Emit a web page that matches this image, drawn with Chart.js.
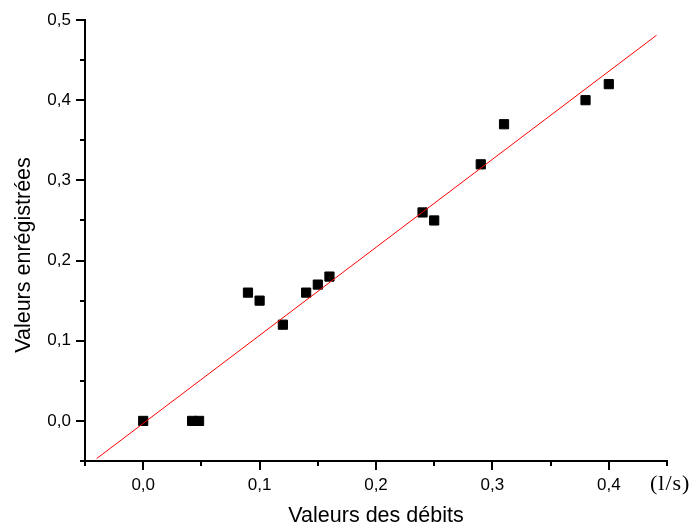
<!DOCTYPE html>
<html>
<head>
<meta charset="utf-8">
<script src="https://cdn.jsdelivr.net/npm/chart.js@4"></script>
<style>
  html, body { margin: 0; padding: 0; background: #fff; }
  canvas { display: block; }
</style>
</head>
<body>
<canvas id="c" width="692" height="529"></canvas>
<script>
// Measured flow rates (l/s) and recorded values
const debits  = [0, 0.042, 0.048, 0.09, 0.10, 0.12, 0.14, 0.15, 0.16, 0.24, 0.25, 0.29, 0.31, 0.38, 0.40];
const valeurs = [0, 0,     0,     0.16, 0.15, 0.12, 0.16, 0.17, 0.18, 0.26, 0.25, 0.32, 0.37, 0.40, 0.42];

// Linear fit, drawn between its two end points
const fitX = [-0.04, 0.441];
const fitY = [-0.047, 0.481];

// Axis ranges and tick step
const xRange = [-0.05, 0.45];
const yRange = [-0.05, 0.5];
const tickStep = 0.05;

const xTitle = 'Valeurs des débits';
const yTitle = 'Valeurs enrégistrées';
const unitLabel = '(l/s)';

const SANS = '"Liberation Sans", Arial, sans-serif';
const SERIF = '"Liberation Serif", "Times New Roman", serif';

const isMajor = v => Math.abs(Math.round(v * 10) - v * 10) < 1e-6;
const fmt = v => isMajor(v) ? (Math.round(v * 10) / 10).toFixed(1).replace('.', ',') : '';

// Outward tick marks (long on labelled values), rotated y title and unit label
const decorations = {
  id: 'decorations',
  afterDraw(chart) {
    const { ctx } = chart;
    const xs = chart.scales.x, ys = chart.scales.y;
    ctx.save();
    ctx.strokeStyle = '#000';
    ctx.lineWidth = 2;
    ctx.beginPath();
    xs.ticks.forEach(t => {
      const px = Math.round(xs.getPixelForValue(t.value));
      const len = isMajor(t.value) ? 9 : 5;
      ctx.moveTo(px, xs.top);
      ctx.lineTo(px, xs.top + len);
    });
    ys.ticks.forEach(t => {
      const py = Math.round(ys.getPixelForValue(t.value));
      const len = isMajor(t.value) ? 9 : 5;
      ctx.moveTo(ys.right, py);
      ctx.lineTo(ys.right - len, py);
    });
    ctx.stroke();

    ctx.fillStyle = '#000';
    ctx.font = '21.5px ' + SANS;
    ctx.textAlign = 'center';
    ctx.textBaseline = 'middle';
    ctx.translate(24, 255);
    ctx.rotate(-Math.PI / 2);
    ctx.fillText(yTitle, 0, 0);
    ctx.setTransform(1, 0, 0, 1, 0, 0);

    ctx.font = '22px ' + SERIF;
    ctx.textAlign = 'left';
    ctx.textBaseline = 'alphabetic';
    if ('letterSpacing' in ctx) ctx.letterSpacing = '1px';
    ctx.fillText(unitLabel, 650, 490);
    ctx.restore();
  }
};

const noPad = scale => {
  scale.paddingLeft = 0; scale.paddingRight = 0;
  scale.paddingTop = 0; scale.paddingBottom = 0;
};

new Chart(document.getElementById('c'), {
  type: 'scatter',
  data: {
    datasets: [
      {
        label: 'fit',
        data: fitX.map((x, i) => ({ x, y: fitY[i] })),
        showLine: true,
        borderColor: '#ff0000',
        borderWidth: 1,
        pointRadius: 0,
        fill: false
      },
      {
        label: 'mesures',
        data: debits.map((x, i) => ({ x, y: valeurs[i] })),
        pointStyle: 'rect',
        pointRadius: 6.5,
        backgroundColor: '#000',
        borderColor: '#000',
        borderWidth: 1
      }
    ]
  },
  options: {
    responsive: false,
    devicePixelRatio: 1,
    animation: false,
    layout: { padding: { left: 0, top: 20, right: 25, bottom: 0 } },
    plugins: { legend: { display: false }, tooltip: { enabled: false } },
    scales: {
      x: {
        type: 'linear',
        min: xRange[0], max: xRange[1],
        afterFit(scale) { scale.height = 68; noPad(scale); },
        grid: { display: false, drawTicks: true, tickLength: 9 },
        border: { display: true, color: '#000', width: 2 },
        ticks: {
          stepSize: tickStep,
          autoSkip: false,
          maxRotation: 0,
          padding: 5,
          color: '#000',
          font: { family: SANS, size: 17 },
          callback: v => fmt(v)
        },
        title: {
          display: true,
          text: xTitle,
          color: '#000',
          font: { family: SANS, size: 21.5 },
          padding: { top: 0, bottom: 0 }
        }
      },
      y: {
        type: 'linear',
        min: yRange[0], max: yRange[1],
        afterFit(scale) { scale.width = 85; noPad(scale); },
        grid: { display: false, drawTicks: true, tickLength: 9 },
        border: { display: true, color: '#000', width: 2 },
        ticks: {
          stepSize: tickStep,
          autoSkip: false,
          padding: 5,
          color: '#000',
          font: { family: SANS, size: 17 },
          callback: v => fmt(v)
        }
      }
    }
  },
  plugins: [decorations]
});
</script>
</body>
</html>
